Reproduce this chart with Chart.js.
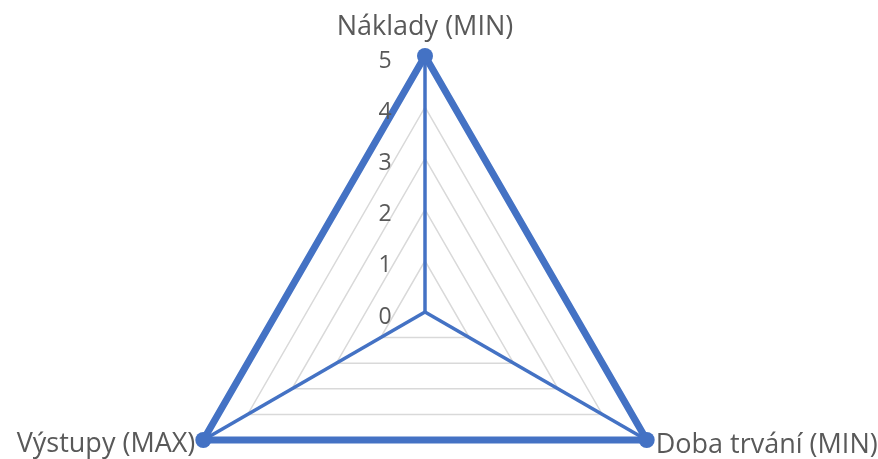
<!DOCTYPE html>
<html>
<head>
<meta charset="utf-8">
<script src="https://cdn.jsdelivr.net/npm/chart.js@4.4.1/dist/chart.umd.min.js"></script>
<style>
html, body { margin: 0; padding: 0; background: #fff; }
#wrap { width: 878px; height: 459px; }
</style>
</head>
<body>
<div id="wrap"><canvas id="radarChart"></canvas></div>
<script>
// data
var labels = ["Náklady (MIN)", "Doba trvání (MIN)", "Výstupy (MAX)"];
var values = [5, 5, 5];
var tickValues = [0, 1, 2, 3, 4, 5];

var blue = "#4472c4";
var textColor = "#595959";
var fontFamily = "'Open Sans', 'Noto Sans', sans-serif";

// tick labels + point labels drawn next to the axis like in excel
var labelPlugin = {
  id: "excelLabels",
  afterDraw: function(chart) {
    var scale = chart.scales.r;
    var ctx = chart.ctx;
    ctx.save();
    ctx.fillStyle = textColor;
    ctx.font = "23px " + fontFamily;
    ctx.textAlign = "center";
    ctx.textBaseline = "middle";
    for (let i in tickValues) {
      let d = scale.getDistanceFromCenterForValue(tickValues[i]);
      ctx.fillText(String(tickValues[i]), scale.xCenter - 40, scale.yCenter - d + 5);
    }

    ctx.font = "27px " + fontFamily;
    ctx.textBaseline = "alphabetic";
    for (let i in labels) {
      let p = scale.getPointPositionForValue(Number(i), scale.max);
      if (i == 0) {
        ctx.textAlign = "center";
        ctx.fillText(labels[i], p.x, p.y - 21);
      } else if (i == 1) {
        ctx.textAlign = "left";
        ctx.fillText(labels[i], p.x + 9, p.y + 13);
      } else {
        ctx.textAlign = "right";
        ctx.fillText(labels[i], p.x - 8, p.y + 12);
      }
    }
    ctx.restore();
  }
};

var ctx = document.getElementById("radarChart").getContext("2d");
var config = {
  type: "radar",
  data: {
    labels: labels,
    datasets: [{
      data: values,
      borderColor: blue,
      backgroundColor: blue,
      borderWidth: 7,
      fill: false,
      pointRadius: 8,
      pointBorderWidth: 0,
      pointBackgroundColor: blue,
      tension: 0
    }]
  },
  options: {
    responsive: true,
    maintainAspectRatio: false,
    animation: false,
    plugins: {
      legend: { display: false },
      tooltip: { enabled: false }
    },
    scales: {
      r: {
        min: 0,
        max: 5,
        ticks: { display: false, stepSize: 1 },
        grid: { color: "#d9d9d9", lineWidth: 1.5 },
        angleLines: { color: blue, lineWidth: 3.5 },
        pointLabels: { display: false },
        afterFit: function(scale) {
          scale.xCenter = 425;
          scale.yCenter = 312;
          scale.drawingArea = 256;
        }
      }
    }
  },
  plugins: [labelPlugin]
};
window.myRadar = new Chart(ctx, config);
</script>
</body>
</html>
